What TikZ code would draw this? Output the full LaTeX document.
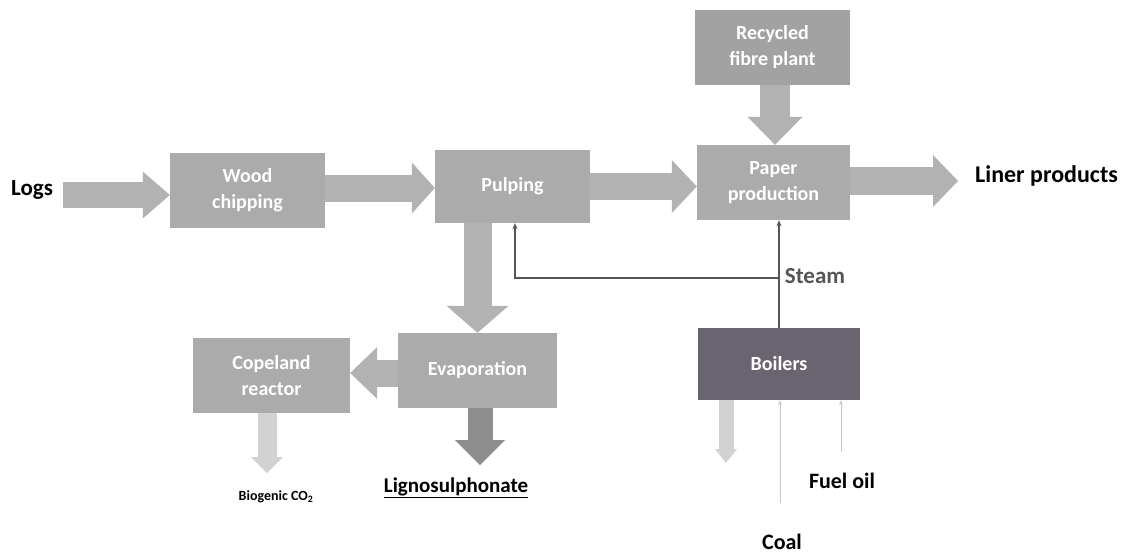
\documentclass[tikz,border=0pt]{standalone}
\usepackage{fontspec}
\setmainfont{Carlito}
\usetikzlibrary{arrows.meta,calc}
\definecolor{boxgray}{HTML}{ABABAB}
\definecolor{arrgray}{HTML}{B2B2B2}
\definecolor{lightarr}{HTML}{D2D2D2}
\definecolor{darkarr}{HTML}{8E8E8E}
\definecolor{boilerc}{HTML}{6A6470}
\definecolor{steamc}{HTML}{555555}
\definecolor{feedc}{HTML}{C8C8C8}
\begin{document}
\begin{tikzpicture}[x=1pt,y=-1pt,
  procbox/.style={fill=boxgray, draw=none, text=white, align=center, inner sep=0pt,
    font=\bfseries\fontsize{20}{26}\selectfont},
  lbl/.style={inner sep=0pt, font=\bfseries\fontsize{23}{27}\selectfont, text=black},
  blockarrow/.style args={#1/#2/#3}{line width=#1pt, draw=arrgray,
    -{Triangle[width=#2pt, length=#3pt, line width=0pt]}},
  thinarrow/.style={draw=steamc, line width=1.3pt, -{Stealth[length=6pt, width=5pt]}},
  feedarrow/.style={draw=feedc, line width=1pt, -{Stealth[length=5pt, width=4pt]}}]
\useasboundingbox (0,0) rectangle (1133,558);

% process boxes
\node[procbox, minimum width=155pt, minimum height=75pt] (wood) at (247.5,190.5) {Wood\\chipping};
\node[procbox, minimum width=155pt, minimum height=73pt] (pulp) at (512.5,186.5) {Pulping};
\node[procbox, minimum width=153pt, minimum height=75pt] (paper) at (773.5,182.5) {Paper\\production};
\node[procbox, minimum width=155pt, minimum height=75pt, fill=boxgray!95!black] (recy) at (772.5,47.5) {Recycled\\fibre plant};
\node[procbox, minimum width=159pt, minimum height=75pt] (evap) at (477.5,370.5) {Evaporation};
\node[procbox, minimum width=157pt, minimum height=75pt] (cope) at (271.5,375.5) {Copeland\\reactor};
\node[procbox, minimum width=162pt, minimum height=72pt, fill=boilerc] (boil) at (779,364) {Boilers};

% labels
\node[lbl, anchor=west] (logs) at (11,190) {Logs};
\node[lbl, anchor=west, font=\bfseries\fontsize{24}{28}\selectfont] (liner) at (975,176) {Liner products};
\node[lbl, text=steamc] (steam) at (815,276) {Steam};
\node[lbl, font=\bfseries\fontsize{21}{25}\selectfont] (ligno) at (456,488) {\underline{Lignosulphonate}};
\node[lbl, font=\bfseries\fontsize{14}{16}\selectfont] (bio) at (276,497) {Biogenic CO\textsubscript{2}};
\node[lbl, font=\bfseries\fontsize{22}{26}\selectfont] (fuel) at (842,481) {Fuel oil};
\node[lbl, font=\bfseries\fontsize{22}{26}\selectfont] (coal) at (782,542) {Coal};

% helper coordinates
\coordinate (logsa) at ([xshift=10pt,yshift=-5pt]logs.east);
\coordinate (woodo) at ([yshift=2.5pt]wood.east);
\coordinate (papero) at ([yshift=1.5pt]paper.east);
\coordinate (evapo) at ([yshift=-2.5pt]evap.west);
\coordinate (bioend) at (267,473);
\coordinate (ligend) at (480,465);
\coordinate (boilend) at (726,463);
\coordinate (sj) at (779,278);
\coordinate (coalend) at (780,503);
\coordinate (fuelend) at (841,452);

% block arrows
\draw[blockarrow=26/47/27] (logsa) -- (logsa -| wood.west);
\draw[blockarrow=27/51/23] (woodo) -- (woodo -| pulp.west);
\draw[blockarrow=27/53/25] (pulp.east) -- (pulp.east -| paper.west);
\draw[blockarrow=30/55/28] ([xshift=2.5pt]recy.south) -- ([xshift=2.5pt]recy.south |- paper.north);
\draw[blockarrow=28/52/25] (papero) -- ([xshift=-17pt]papero -| liner.west);
\draw[blockarrow=28/62/27] (pulp.south -| evap.north) -- (evap.north);
\draw[blockarrow=27/52/27] (evapo) -- (evapo -| cope.east);
\draw[blockarrow=19/32/16, draw=lightarr] (cope.south -| bioend) -- (bioend);
\draw[blockarrow=25/50/25, draw=darkarr] (evap.south -| ligend) -- (ligend);
\draw[blockarrow=15/22/14, draw=lightarr] (boil.south -| boilend) -- (boilend);

% steam and feeds
\draw[thinarrow] (boil.north) -- (boil.north |- paper.south);
\draw[thinarrow] (sj) -| ([xshift=2.5pt]pulp.south);
\draw[feedarrow] (coalend) -- (coalend |- boil.south);
\draw[feedarrow] (fuelend) -- (fuelend |- boil.south);
\end{tikzpicture}
\end{document}
